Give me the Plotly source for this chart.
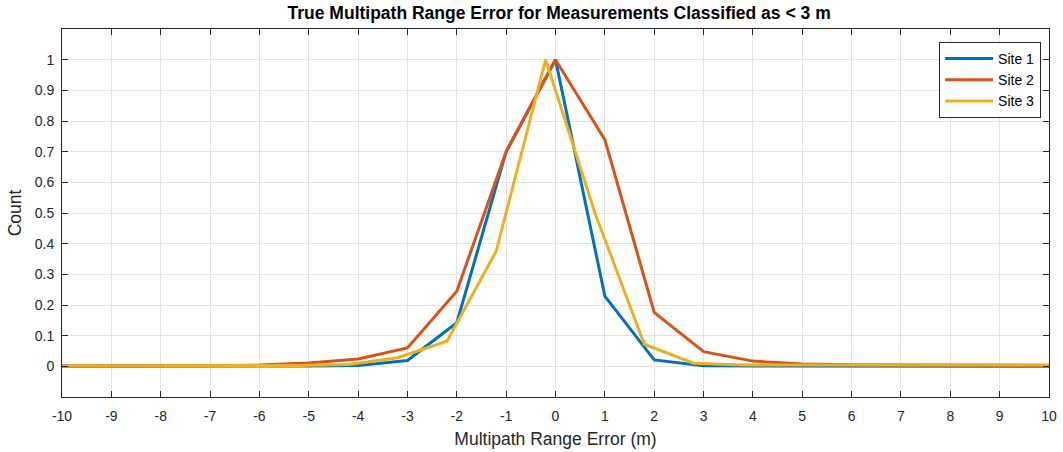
import plotly.graph_objects as go

x_int = list(range(-10, 11))
x_site3 = [-10.2, -9.2, -8.2, -7.2, -6.2, -5.2, -4.2, -3.2, -2.2, -1.2, -0.2,
           0.8, 1.8, 2.8, 3.8, 4.8, 5.8, 6.8, 7.8, 8.8, 9.8, 10.8]

site1 = [0, 0, 0, 0, 0, 0.001, 0.003, 0.019, 0.142, 0.70, 1.0,
         0.229, 0.021, 0.002, 0.001, 0.001, 0, 0, 0, 0, 0]
site2 = [0.001, 0.001, 0.002, 0.003, 0.004, 0.011, 0.024, 0.06, 0.245, 0.70, 1.0,
         0.739, 0.176, 0.048, 0.017, 0.008, 0.005, 0.004, 0.003, 0.003, 0.003]
site3 = [0.001, 0.001, 0.001, 0.002, 0.002, 0.003, 0.006, 0.028, 0.082, 0.376, 1.0,
         0.5, 0.072, 0.01, 0.004, 0.004, 0.004, 0.004, 0.004, 0.004, 0.004, 0.004]

x_ticks = list(range(-10, 11))
x_tick_text = [str(v) for v in x_ticks]
y_ticks = [round(i * 0.1, 1) for i in range(11)]
y_tick_text = ["0", "0.1", "0.2", "0.3", "0.4", "0.5", "0.6", "0.7", "0.8", "0.9", "1"]

FONT = "Liberation Sans, Arial"

fig = go.Figure()
fig.add_trace(go.Scatter(x=x_int, y=site1, mode="lines", name="Site 1",
                         line=dict(color="#0072BD", width=3)))
fig.add_trace(go.Scatter(x=x_int, y=site2, mode="lines", name="Site 2",
                         line=dict(color="#D95319", width=3)))
fig.add_trace(go.Scatter(x=x_site3, y=site3, mode="lines", name="Site 3",
                         line=dict(color="#EDB120", width=3)))

axis_common = dict(showline=True, linecolor="#262626", linewidth=1, mirror="ticks",
                   ticks="inside", ticklen=6, tickcolor="#262626",
                   showgrid=True, gridcolor="#E3E3E3", gridwidth=1, zeroline=False,
                   automargin=False,
                   tickfont=dict(family=FONT, size=14, color="#262626"))

fig.update_layout(
    width=1063, height=452,
    margin=dict(l=62, r=14, t=29, b=55),
    paper_bgcolor="white", plot_bgcolor="white",
    title=dict(text="<b>True Multipath Range Error for Measurements Classified as < 3 m</b>",
               x=0.526, xanchor="center", y=0.972, yanchor="middle",
               font=dict(family=FONT, size=17.5, color="black")),
    xaxis=dict(range=[-10, 10], tickvals=x_ticks, ticktext=x_tick_text,
               ticklabelstandoff=6, **axis_common,
               title=dict(text="Multipath Range Error (m)", standoff=9,
                          font=dict(family=FONT, size=17.5, color="#262626"))),
    yaxis=dict(range=[-0.1, 1.1], tickvals=y_ticks, ticktext=y_tick_text,
               ticklabelstandoff=4, **axis_common,
               title=dict(text="Count", standoff=8,
                          font=dict(family=FONT, size=17.5, color="#262626"))),
    legend=dict(x=0.992, y=0.965, xanchor="right", yanchor="top",
                bordercolor="#262626", borderwidth=1, bgcolor="white",
                font=dict(family=FONT, size=14, color="black"),
                tracegroupgap=0, itemwidth=48),
    showlegend=True,
)

fig.write_html("out.html")
